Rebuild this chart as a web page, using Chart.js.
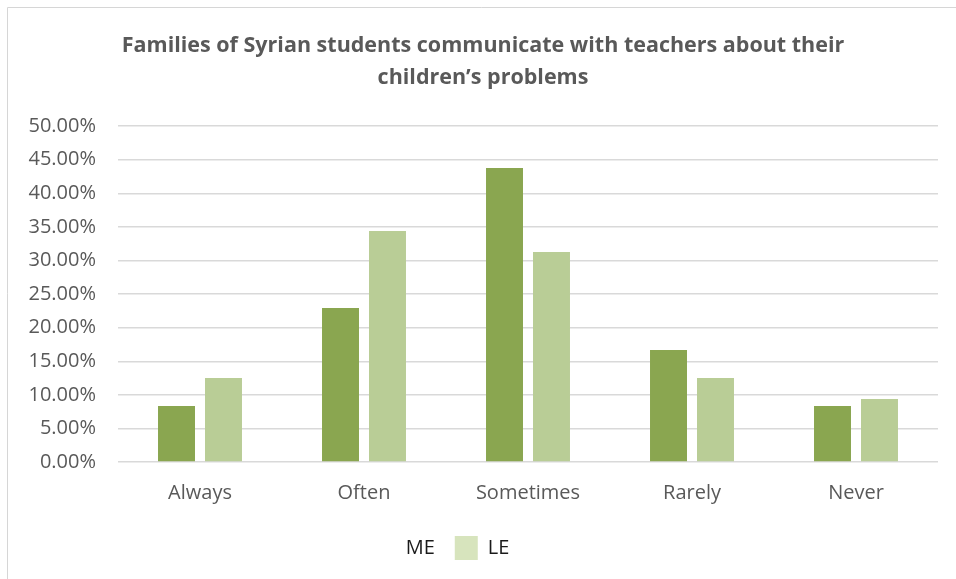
<!DOCTYPE html>
<html>
<head>
<meta charset="utf-8">
<script src="https://cdn.jsdelivr.net/npm/chart.js@4"></script>
<style>
  html, body { margin: 0; padding: 0; background: #ffffff; }
  #wrap { position: relative; width: 956px; height: 579px; }
</style>
</head>
<body>
<div id="wrap"><canvas id="chart" width="956" height="579"></canvas></div>
<script>
// Survey answers, share of respondents (%)
const categories = ["Always", "Often", "Sometimes", "Rarely", "Never"];
const meValues = [8.33, 22.92, 43.75, 16.67, 8.33];
const leValues = [12.5, 34.38, 31.25, 12.5, 9.38];
const titleLines = [
  "Families of Syrian students communicate with teachers about their",
  "children\u2019s problems"
];

const textGray = "#595959";
const gridGray = "#D9D9D9";

// Thin frame along the top and left edges
const framePlugin = {
  id: "frame",
  beforeDraw(chart) {
    const ctx = chart.ctx;
    ctx.save();
    ctx.strokeStyle = "#D6D6D6";
    ctx.lineWidth = 1;
    ctx.beginPath();
    ctx.moveTo(7.5, chart.height);
    ctx.lineTo(7.5, 7.5);
    ctx.lineTo(chart.width, 7.5);
    ctx.stroke();
    ctx.restore();
  }
};

// Nudge the legend a little left of centre
const legendShift = {
  id: "legendShift",
  afterLayout(chart) {
    const lg = chart.legend;
    lg.left -= 42;
    lg.right -= 42;
  }
};

new Chart(document.getElementById("chart"), {
  type: "bar",
  data: {
    labels: categories,
    datasets: [
      {
        label: "ME",
        data: meValues,
        backgroundColor: "#8AA650",
        borderWidth: 0,
        categoryPercentage: 0.573,
        barPercentage: 0.787
      },
      {
        label: "LE",
        data: leValues,
        backgroundColor: "#B9CD96",
        borderWidth: 0,
        categoryPercentage: 0.573,
        barPercentage: 0.787
      }
    ]
  },
  options: {
    responsive: false,
    animation: false,
    devicePixelRatio: 1,
    layout: { padding: { left: 28, right: 18, top: 0, bottom: 9 } },
    plugins: {
      title: {
        display: true,
        text: titleLines,
        color: textGray,
        font: { family: "'Open Sans', sans-serif", size: 21.5, weight: "bold", lineHeight: 1.49 },
        padding: { top: 30, bottom: 32 }
      },
      legend: {
        position: "bottom",
        labels: {
          color: "#1a1a1a",
          font: { family: "'Open Sans', sans-serif", size: 20 },
          boxWidth: 23,
          boxHeight: 24,
          padding: 20,
          generateLabels(chart) {
            // ME swatch is blank, LE swatch is a pale green
            return [
              { text: "ME", fillStyle: "rgba(255,255,255,0)", strokeStyle: "rgba(255,255,255,0)", lineWidth: 0, datasetIndex: 0, fontColor: "#1a1a1a" },
              { text: "LE", fillStyle: "#D7E4BD", strokeStyle: "#D7E4BD", lineWidth: 0, datasetIndex: 1, fontColor: "#1a1a1a" }
            ];
          }
        }
      },
      tooltip: { enabled: false }
    },
    scales: {
      x: {
        grid: { display: false },
        border: { display: false },
        ticks: {
          color: textGray,
          font: { family: "'Open Sans', sans-serif", size: 20 },
          padding: 11
        }
      },
      y: {
        min: 0,
        max: 50,
        afterFit(scale) { scale.width = 90; },
        grid: { color: gridGray, lineWidth: 1.4, drawTicks: false },
        border: { display: false },
        ticks: {
          stepSize: 5,
          color: textGray,
          font: { family: "'Open Sans', sans-serif", size: 20 },
          padding: 22,
          callback: (v) => v.toFixed(2) + "%"
        }
      }
    }
  },
  plugins: [framePlugin, legendShift]
});
</script>
</body>
</html>
